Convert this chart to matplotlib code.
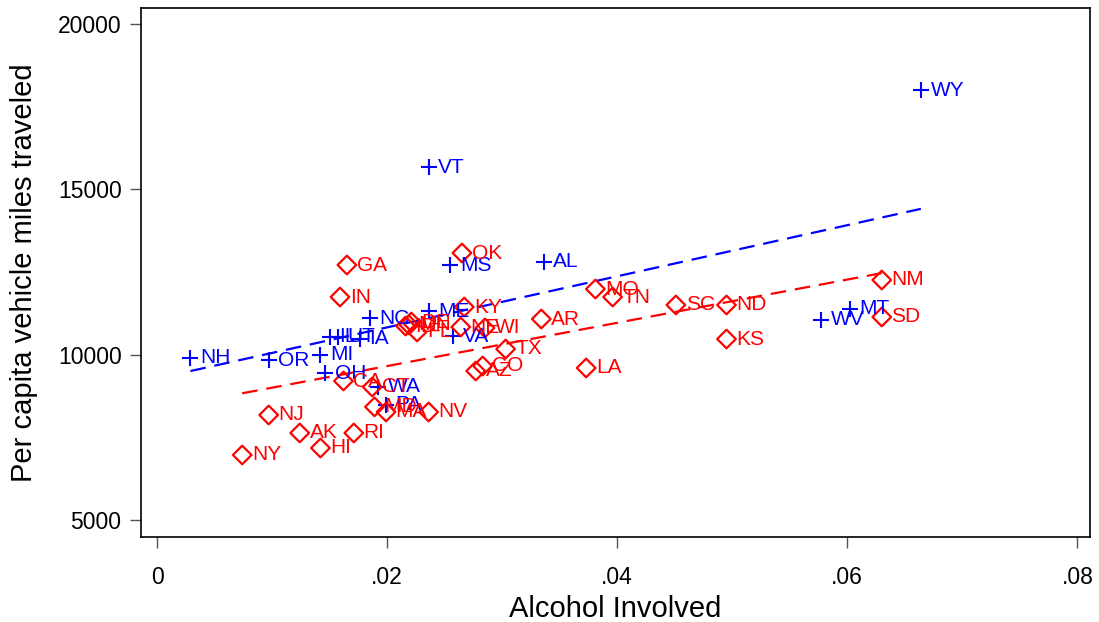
import numpy as np
import matplotlib.pyplot as plt

plt.rcParams['font.family'] = ['Liberation Sans', 'DejaVu Sans']

# group 1 (blue +)
blue_states = ['NH', 'OR', 'MI', 'OH', 'IL', 'UT', 'IA', 'NC', 'ME', 'VA', 'MS', 'AL',
               'VT', 'WY', 'WV', 'MT', 'WA', 'PA']
blue_x = [0.0029, 0.0097, 0.0142, 0.0146, 0.0150, 0.0157, 0.0176, 0.0185, 0.0236, 0.0257,
          0.0255, 0.0336, 0.0236, 0.0664, 0.0577, 0.0602, 0.0192, 0.0199]
blue_y = [9899, 9838, 10000, 9445, 10540, 10540, 10480, 11108, 11320, 10564, 12711, 12802,
          15675, 18003, 11048, 11381, 9022, 8478]

# group 2 (red diamonds)
red_states = ['NY', 'NJ', 'AK', 'HI', 'RI', 'GA', 'IN', 'CA', 'CT', 'MD', 'MA', 'NV',
              'ID', 'MN', 'DE', 'FL', 'NE', 'WI', 'KY', 'OK', 'AR', 'TX', 'CO', 'AZ',
              'LA', 'MO', 'TN', 'SC', 'ND', 'KS', 'NM', 'SD']
red_x = [0.0074, 0.0097, 0.0124, 0.0142, 0.0171, 0.0165, 0.0159, 0.0162, 0.0187, 0.0189,
         0.0199, 0.0236, 0.0216, 0.0219, 0.0221, 0.0226, 0.0264, 0.0285, 0.0267, 0.0265,
         0.0334, 0.0303, 0.0283, 0.0277, 0.0373, 0.0381, 0.0396, 0.0451, 0.0495, 0.0495,
         0.0630, 0.0630]
red_y = [6966, 8175, 7631, 7177, 7631, 12711, 11743, 9203, 9022, 8420, 8266, 8266,
         10866, 10900, 10987, 10685, 10836, 10806, 11441, 13074, 11078, 10171, 9657, 9506,
         9597, 11985, 11743, 11502, 11502, 10473, 12258, 11139]

blue = '#0000ff'
red = '#ff0000'

fig = plt.figure(figsize=(10.99, 6.22), dpi=100)
ax = fig.add_axes([0.1283, 0.1367, 0.8635, 0.8504])

ax.scatter(blue_x, blue_y, marker='+', s=140, c=blue, linewidths=1.5, zorder=3)
ax.scatter(red_x, red_y, marker='D', s=90, facecolors='none', edgecolors=red,
           linewidths=1.6, zorder=3)

for s, x, y in zip(blue_states, blue_x, blue_y):
    ax.annotate(s, (x, y), xytext=(7, 0), textcoords='offset points', va='center',
                ha='left', color=blue, fontsize=15)
for s, x, y in zip(red_states, red_x, red_y):
    ax.annotate(s, (x, y), xytext=(7, 0), textcoords='offset points', va='center',
                ha='left', color=red, fontsize=15)

# linear fits for each group
for xs, ys, col in [(blue_x, blue_y, blue), (red_x, red_y, red)]:
    b, a = np.polyfit(xs, ys, 1)
    xx = np.array([min(xs), max(xs)])
    ax.plot(xx, a + b * xx, color=col, lw=1.6, dashes=(7, 4), zorder=2)

ax.set_xlim(-0.0014, 0.0811)
ax.set_ylim(4486, 20483)
ax.set_xticks([0, 0.02, 0.04, 0.06, 0.08])
ax.set_xticklabels(['0', '.02', '.04', '.06', '.08'])
ax.set_yticks([5000, 10000, 15000, 20000])
ax.tick_params(direction='out', length=8, width=1, color='#555555', labelsize=16.5)
ax.tick_params(axis='x', pad=13)
ax.tick_params(axis='y', pad=6)
ax.set_xlabel('Alcohol Involved', fontsize=21, labelpad=4)
ax.set_ylabel('Per capita vehicle miles traveled', fontsize=21, labelpad=14)
for sp in ax.spines.values():
    sp.set_linewidth(1.2)

fig.savefig('out.png', dpi=100)
